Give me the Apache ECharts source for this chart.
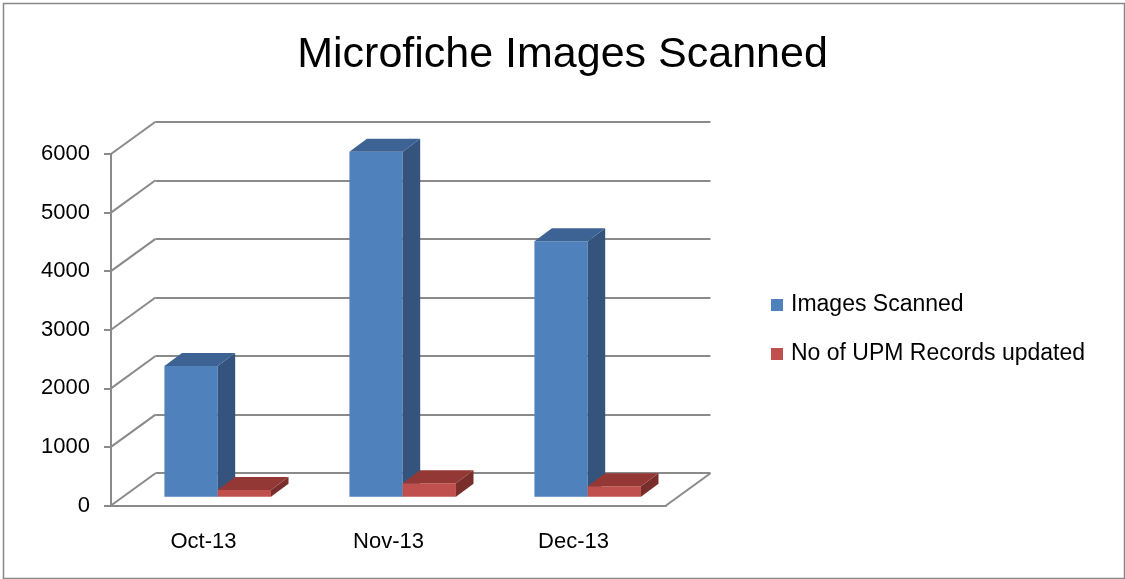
<!DOCTYPE html>
<html>
<head>
<meta charset="utf-8">
<script src="https://cdn.jsdelivr.net/npm/echarts@6/dist/echarts.min.js"></script>
<style>
html,body{margin:0;padding:0;background:#fff;}
#chart{width:1125px;height:579px;}
</style>
</head>
<body>
<div id="chart"></div>
<script>
var categories = ['Oct-13', 'Nov-13', 'Dec-13'];
var imagesScanned = [2230, 5890, 4360];
var upmRecords = [115, 230, 180];
var yTicks = [0, 1000, 2000, 3000, 4000, 5000, 6000];
var seriesNames = ['Images Scanned', 'No of UPM Records updated'];

var FONT = 'Liberation Sans';
var WALL_DX = 44.5, WALL_DY = -32.3;   // depth of the floor / left wall
var SHIFT_X = 14.2, SHIFT_Y = -8.8;    // bar front plane offset
var BAR_DX = 17.5, BAR_DY = -13;       // bar depth
var BAR_FRAC = 0.288;                  // bar width as part of a category band

var colors = [
  {front: '#4F81BD', top: '#3C6394', side: '#34547D'},
  {front: '#C0504D', top: '#943836', side: '#7A2E2C'}
];

function barRenderer(sIdx) {
  return function (params, api) {
    var i = api.value(0), v = api.value(1);
    var band = api.size([1, 0])[0];
    var w = band * BAR_FRAC;
    var base = api.coord([i, 0]);
    var topPt = api.coord([i, v]);
    var L = base[0] + SHIFT_X - w + sIdx * w;
    var R = L + w;
    var B = base[1] + SHIFT_Y;
    var T = topPt[1] + SHIFT_Y;
    var c = colors[sIdx];
    return {
      type: 'group',
      children: [
        {type: 'rect', shape: {x: L, y: T, width: w, height: B - T}, style: {fill: c.front}},
        {type: 'polygon', shape: {points: [[R, T], [R + BAR_DX, T + BAR_DY], [R + BAR_DX, B + BAR_DY], [R, B]]}, style: {fill: c.side}},
        {type: 'polygon', shape: {points: [[L, T], [L + BAR_DX, T + BAR_DY], [R + BAR_DX, T + BAR_DY], [R, T]]}, style: {fill: c.top}}
      ]
    };
  };
}

var chart = echarts.init(document.getElementById('chart'), null, {renderer: 'canvas'});
var gridFront = {left: 111, top: 154, width: 555, height: 351.5};
var gridBack = {left: 111 + WALL_DX, top: 154 + WALL_DY, width: 555, height: 351.5};

var option = {
  backgroundColor: '#ffffff',
  animation: false,
  title: {
    text: 'Microfiche Images Scanned',
    left: 'center',
    top: 29,
    textStyle: {fontFamily: FONT, fontSize: 43, fontWeight: 'normal', color: '#000'}
  },
  legend: {
    orient: 'vertical',
    left: 766,
    top: 288,
    itemWidth: 12,
    itemHeight: 12,
    itemGap: 25,
    icon: 'rect',
    data: [
      {name: seriesNames[0], itemStyle: {color: colors[0].front}},
      {name: seriesNames[1], itemStyle: {color: colors[1].front}}
    ],
    textStyle: {fontFamily: FONT, fontSize: 23, color: '#000', lineHeight: 24, padding: [0, 0, 0, 3]}
  },
  graphic: [{
    type: 'rect', left: 1, top: 1,
    shape: {width: 1121, height: 575},
    style: {fill: 'none', stroke: '#888', lineWidth: 1.5},
    silent: true, z: -1
  }],
  grid: [
    Object.assign({}, gridFront),
    Object.assign({}, gridBack)
  ],
  xAxis: [
    {
      type: 'category', gridIndex: 0, data: categories,
      axisLine: {lineStyle: {color: '#8a8a8a', width: 2}},
      axisTick: {length: 7, lineStyle: {color: '#8a8a8a', width: 2}},
      axisLabel: {fontFamily: FONT, fontSize: 22, color: '#000', margin: 25}
    },
    {
      type: 'category', gridIndex: 1, data: categories, show: false
    }
  ],
  yAxis: [
    {
      type: 'value', gridIndex: 0, min: 0, max: 6000, interval: 1000,
      axisLine: {show: true, lineStyle: {color: '#8a8a8a', width: 2}},
      axisTick: {show: true, length: 7, lineStyle: {color: '#8a8a8a', width: 2}},
      splitLine: {show: false},
      axisLabel: {fontFamily: FONT, fontSize: 22, color: '#000', margin: 21,
        formatter: function (v) { return String(v); }}
    },
    {
      type: 'value', gridIndex: 1, min: 0, max: 6000, interval: 1000,
      axisLine: {show: false}, axisTick: {show: false}, axisLabel: {show: false},
      splitLine: {show: true, lineStyle: {color: '#8a8a8a', width: 2}}
    }
  ],
  series: [
    {
      name: 'walls', type: 'custom', xAxisIndex: 0, yAxisIndex: 0, silent: true, z: 1,
      data: yTicks.map(function (t) { return [0, t]; }),
      renderItem: function (params, api) {
        var cs = params.coordSys;
        var y = api.coord([0, api.value(1)])[1];
        var children = [{
          type: 'line',
          shape: {x1: cs.x, y1: y, x2: cs.x + WALL_DX, y2: y + WALL_DY},
          style: {stroke: '#8a8a8a', lineWidth: 2}
        }];
        if (api.value(1) === 0) {
          children.push({
            type: 'line',
            shape: {x1: cs.x + cs.width, y1: y, x2: cs.x + cs.width + WALL_DX, y2: y + WALL_DY},
            style: {stroke: '#8a8a8a', lineWidth: 2}
          });
        }
        return {type: 'group', children: children};
      }
    },
    {
      name: seriesNames[0], type: 'custom', xAxisIndex: 0, yAxisIndex: 0, z: 3,
      itemStyle: {color: colors[0].front},
      data: imagesScanned.map(function (v, i) { return [i, v]; }),
      renderItem: barRenderer(0)
    },
    {
      name: seriesNames[1], type: 'custom', xAxisIndex: 0, yAxisIndex: 0, z: 4,
      itemStyle: {color: colors[1].front},
      data: upmRecords.map(function (v, i) { return [i, v]; }),
      renderItem: barRenderer(1)
    }
  ]
};
chart.setOption(option);
</script>
</body>
</html>
